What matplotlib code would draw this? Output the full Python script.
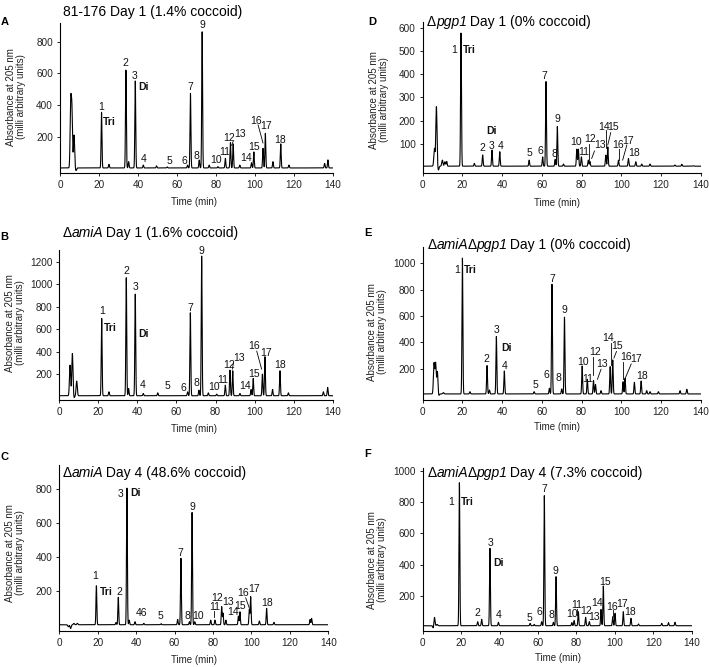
import numpy as np
import matplotlib
matplotlib.use("Agg")
import matplotlib.pyplot as plt

plt.rcParams['font.family'] = ['Liberation Sans', 'DejaVu Sans']

# ---------------- data (retention time in min, absorbance in mAU) ----------------
time_ticks = [0, 20, 40, 60, 80, 100, 120, 140]

# Panel A: 81-176 Day 1
a_title = [("81-176 Day 1 (1.4% coccoid)", "normal")]
a_peak_t = [5.5, 6.1, 7.2, 8.2, 21.3, 25.1, 33.8, 35.2, 38.6, 42.7, 49.5, 55, 65.4, 66.9, 71.4, 72.9,
            76.5, 81, 84.8, 87.4, 88.8, 92.2, 98.2, 99.4, 104.1, 105.3, 109.2, 113.2, 117.4, 135.7, 137.4]
a_peak_h = [406, 358, 210, -15, 354, 25, 621, 42, 552, 20, 15, 8, 20, 474, 52, 863,
            20, 10, 63, 162, 154, 20, 35, 103, 126, 221, 42, 154, 20, 30, 53]
a_yticks = [200, 400, 600, 800]
a_lab = ["1", "Tri", "2", "3", "Di", "4", "5", "6", "7", "8", "9", "10", "11", "12", "13", "14", "15", "16", "17", "18"]
a_lab_t = [21.3, 25.3, 33.6, 38.1, 42.7, 42.7, 56, 63.7, 66.6, 70, 72.9, 80.2, 84.5, 86.7, 92.2, 95.6, 99.4, 100.7, 105.5, 113]
a_lab_v = [389, 295, 663, 583, 516, 59, 46, 46, 516, 78, 905, 53, 105, 194, 215, 63, 133, 301, 267, 179]

# Panel B: ΔamiA Day 1
b_title = [("Δ", "normal"), ("amiA", "italic"), (" Day 1 (1.6% coccoid)", "normal")]
b_peak_t = [5.5, 6.7, 7.6, 8.9, 21.7, 25.4, 34.3, 35.5, 38.9, 43, 50.4, 65.7, 67.1, 71.5, 72.9, 76.3,
            80.6, 85, 87.4, 88.8, 92.5, 98.2, 99.3, 104, 105.3, 109.2, 113, 117.3, 135.2, 137.4]
b_peak_h = [280, 384, -10, 138, 696, 43, 1058, 72, 912, 28, 34, 43, 746, 58, 1250, 34,
            22, 102, 236, 230, 28, 64, 162, 200, 355, 64, 230, 34, 43, 82]
b_yticks = [200, 400, 600, 800, 1000, 1200]
b_lab = ["1", "Tri", "2", "3", "Di", "4", "5", "6", "7", "8", "9", "10", "11", "12", "13", "14", "15", "16", "17", "18"]
b_lab_t = [21.7, 25.9, 34.5, 38.9, 43, 42.7, 55.5, 63.5, 67.1, 70, 72.7, 79.4, 83.5, 86.9, 92.2, 95.1, 99.9, 99.9, 105.7, 113]
b_lab_v = [764, 615, 1117, 978, 553, 102, 96, 81, 793, 117, 1295, 87, 147, 280, 340, 96, 197, 449, 390, 280]

# Panel C: ΔamiA Day 4
c_title = [("Δ", "normal"), ("amiA", "italic"), (" Day 4 (48.6% coccoid)", "normal")]
c_peak_t = [4.7, 5.9, 7.6, 9.4, 19.3, 29.5, 30.7, 35.2, 36.4, 39.4, 44, 53, 61.6, 63.3, 67.7, 69.1,
            70.5, 78.8, 81, 84.5, 85.2, 86.7, 93.2, 94, 98.9, 99.6, 104.1, 107.9, 111.7, 130.5, 131.3]
c_peak_h = [-10, -20, 10, 10, 231, 15, 163, 804, 29, 20, 10, 8, 33, 392, 20, 661,
            20, 29, 29, 108, 70, 29, 53, 78, 92, 167, 24, 98, 16, 33, 39]
c_yticks = [200, 400, 600, 800]
c_lab = ["1", "Tri", "2", "3", "Di", "46", "5", "7", "8", "10", "9", "11", "12", "13", "14", "15", "16", "17", "18"]
c_lab_t = [18.6, 24.6, 31.1, 31.9, 39.9, 42.9, 52.9, 62.8, 66.8, 72, 69.4, 80.7, 81.9, 87.6, 90.2, 94, 95.4, 101.3, 108.3]
c_lab_v = [288, 196, 196, 771, 775, 69, 55, 425, 55, 55, 696, 108, 157, 137, 78, 112, 186, 210, 131]

# Panel D: Δpgp1 Day 1
d_title = [("Δ", "normal"), ("pgp1", "italic"), (" Day 1 (0% coccoid)", "normal")]
d_peak_t = [5.9, 6.9, 7.9, 9.9, 11.2, 12.1, 19.3, 26, 30.2, 34.9, 38.8, 53.6, 60.4, 62.1, 66.7, 67.8,
            70.9, 77.6, 78.4, 79.9, 83.4, 84.2, 92.2, 93.2, 98.6, 103.6, 107.3, 110.3, 114.5, 127, 130.5, 136.3]
d_peak_h = [81, 260, -12, 31, 24, 25, 576, 17, 53, 74, 67, 31, 45, 368, 34, 175,
            14, 78, 78, 45, 31, 25, 52, 88, 31, 38, 24, 14, 14, 10, 13, 7]
d_yticks = [100, 200, 300, 400, 500, 600]
d_lab = ["1", "Tri", "2", "3", "4", "Di", "5", "6", "7", "8", "9", "10", "11", "12", "13", "14", "15", "16", "17", "18"]
d_lab_t = [15.8, 23.5, 30.2, 34.9, 39.3, 34.8, 53.6, 59.1, 61.3, 66.2, 67.8, 77.2, 80.9, 84.3, 89.3, 91.5, 96, 98.6, 103.6, 106.4]
d_lab_v = [504, 504, 84, 93, 93, 157, 60, 71, 392, 56, 207, 110, 67, 120, 96, 174, 174, 96, 113, 60]

# Panel E: ΔamiAΔpgp1 Day 1
e_title = [("Δ", "normal"), ("amiA", "italic"), ("Δ", "normal"), ("pgp1", "italic"),
           (" Day 1 (0% coccoid)", "normal")]
e_peak_t = [5.7, 6.5, 7.4, 8.0, 10.4, 20, 23.8, 32.4, 33.6, 37.1, 41.1, 56.1, 63.8, 65.1, 70, 71.4,
            80.3, 82.9, 86, 87, 89.8, 94.4, 95.7, 100.9, 101.9, 106.6, 110, 112.8, 114.5, 118.7, 129.6, 133]
e_peak_h = [240, 240, 177, -10, 18, 1038, 25, 223, 38, 443, 182, 25, 51, 840, 46, 590,
            220, 119, 110, 80, 33, 215, 266, 101, 127, 96, 106, 33, 25, 25, 33, 43]
e_yticks = [200, 400, 600, 800, 1000]
e_lab = ["1", "Tri", "2", "3", "Di", "4", "5", "6", "7", "8", "9", "10", "11", "12", "13", "14", "15", "16", "17", "18"]
e_lab_t = [17.1, 23.8, 32.2, 37.3, 42.3, 41.5, 56.9, 62.1, 65.3, 68.3, 71.4, 80.6, 83.2, 86.8, 90.2, 93.5, 97.9, 102.4, 107.5, 110.6]
e_lab_v = [949, 949, 271, 494, 354, 223, 76, 152, 878, 127, 641, 253, 120, 329, 235, 430, 372, 286, 271, 147]

# Panel F: ΔamiAΔpgp1 Day 4
f_title = [("Δ", "normal"), ("amiA", "italic"), ("Δ", "normal"), ("pgp1", "italic"),
           (" Day 4 (7.3% coccoid)", "normal")]
f_peak_t = [5.6, 6.1, 7.5, 19.1, 28.6, 30.7, 35, 39.4, 55.9, 58, 61.9, 63.3, 68, 69.4, 77.6, 78.8,
            81, 84.8, 86.7, 92.8, 94, 98.9, 100.1, 104.4, 108.4, 112.3, 124.4, 127.9, 131.3]
f_peak_h = [-14, 65, 15, 925, 33, 48, 504, 29, 22, 15, 33, 842, 29, 322, 27, 40,
            97, 61, 33, 112, 262, 65, 87, 97, 55, 18, 22, 27, 29]
f_yticks = [200, 400, 600, 800, 1000]
f_lab = ["1", "Tri", "2", "3", "Di", "4", "5", "6", "7", "8", "9", "10", "11", "12", "13", "14", "15", "16", "17", "18"]
f_lab_t = [14.6, 23.2, 28.6, 35.2, 39.4, 39.4, 55.5, 60.7, 63.3, 66.8, 68.9, 77.6, 80.2, 85, 89.4, 90.9, 94.9, 98.4, 103.6, 108.1]
f_lab_v = [803, 803, 91, 536, 407, 76, 55, 93, 882, 76, 358, 80, 140, 104, 65, 151, 290, 129, 147, 97]

# ---------------- layout (pixels in a 709 x 667 canvas) ----------------
W, H = 709, 667
panels = [
    dict(letter="A", title=a_title, t=a_peak_t, h=a_peak_h, yt=a_yticks, lab=a_lab, lt=a_lab_t, lv=a_lab_v,
         box=(60, 23, 333, 173), ylim=(-30, 919), base=2, letter_xy=(5, 22), title_xy=(63, 12),
         ylab_xy=(16, 97), xlab_xy=(194, 202),
         leaders=[(101.6, 274, 104.1, 160), (88.8, 170, 88.0, 145)]),
    dict(letter="B", title=b_title, t=b_peak_t, h=b_peak_h, yt=b_yticks, lab=b_lab, lt=b_lab_t, lv=b_lab_v,
         box=(59.3, 250, 332.7, 400), ylim=(-30, 1305), base=8, letter_xy=(4.5, 237.5), title_xy=(63, 233),
         ylab_xy=(15.3, 323), xlab_xy=(194, 429),
         leaders=[(101.1, 405, 103.6, 245), (89.2, 300, 88.6, 245)]),
    dict(letter="C", title=c_title, t=c_peak_t, h=c_peak_h, yt=c_yticks, lab=c_lab, lt=c_lab_t, lv=c_lab_v,
         box=(59.3, 465, 328.3, 630.7), ylim=(-33, 940), base=2, letter_xy=(4.5, 457.5), title_xy=(63, 473),
         ylab_xy=(14.7, 553), xlab_xy=(194, 660),
         leaders=[(97.0, 160, 98.9, 100), (80.7, 85, 80.7, 45)]),
    dict(letter="D", title=d_title, t=d_peak_t, h=d_peak_h, yt=d_yticks, lab=d_lab, lt=d_lab_t, lv=d_lab_v,
         box=(422.7, 21.7, 700.7, 172.7), ylim=(-23, 625), base=5, letter_xy=(372.5, 21.7), title_xy=(427, 21.7),
         ylab_xy=(379.5, 100), xlab_xy=(557, 203),
         leaders=[(83.8, 100, 83.8, 33), (86.5, 70, 85.1, 38), (92.2, 160, 92.2, 81),
                  (94.7, 149, 93.2, 96), (98.9, 77, 98.9, 31), (102.8, 96, 100.7, 31)]),
    dict(letter="E", title=e_title, t=e_peak_t, h=e_peak_h, yt=e_yticks, lab=e_lab, lt=e_lab_t, lv=e_lab_v,
         box=(422.7, 246.7, 700.7, 400), ylim=(-38, 1125), base=8, letter_xy=(367.5, 233), title_xy=(428, 245),
         ylab_xy=(376.7, 331.7), xlab_xy=(557, 427),
         leaders=[(86, 291, 86, 150), (89.8, 195, 88, 119), (94.7, 397, 94.7, 230),
                  (97.6, 330, 96.3, 280), (100.7, 250, 100.7, 120), (105, 235, 102, 127)]),
    dict(letter="F", title=f_title, t=f_peak_t, h=f_peak_h, yt=f_yticks, lab=f_lab, lt=f_lab_t, lv=f_lab_v,
         box=(422.7, 468.3, 691.7, 630.7), ylim=(-25, 1018), base=7, letter_xy=(367.5, 454), title_xy=(428, 473),
         ylab_xy=(376.7, 560), xlab_xy=(558, 658),
         leaders=[(80.5, 112, 80.5, 75), (98.9, 105, 98.9, 70)]),
]

fig = plt.figure(figsize=(W / 100, H / 100), dpi=100)
renderer = fig.canvas.get_renderer()

def fx(x):
    return x / W

def fy(y):
    return 1 - y / H

def rich_text(x, y, segments, size):
    cur = x
    for s, style in segments:
        t = fig.text(fx(cur), fy(y), s, ha="left", va="center", fontsize=size, fontstyle=style)
        cur += t.get_window_extent(renderer=renderer).width
        if style == "italic":
            cur -= 1.5

grid = np.linspace(0, 140, 14001)

for p in panels:
    x0, y0, x1, y1 = p["box"]
    ax = fig.add_axes([fx(x0), fy(y1), fx(x1) - fx(x0), fy(y0) - fy(y1)])
    tr = np.full_like(grid, float(p["base"]))
    for t, hgt in zip(p["t"], p["h"]):
        sig = 0.3 if t < 12 else 0.22
        tr += (hgt - p["base"]) * np.exp(-0.5 * ((grid - t) / sig) ** 2)
    ax.plot(grid, tr, color="black", lw=0.8)
    ax.set_xlim(0, 140)
    ax.set_ylim(*p["ylim"])
    ax.set_xticks(time_ticks)
    ax.set_yticks(p["yt"])
    for s in ("top", "right"):
        ax.spines[s].set_visible(False)
    for s in ("left", "bottom"):
        ax.spines[s].set_linewidth(0.8)
    ax.tick_params(axis="both", labelsize=7.2, length=2.5, width=0.7, pad=2.5, colors="#222222")
    ax.patch.set_alpha(0)
    for txt, lt, lv in zip(p["lab"], p["lt"], p["lv"]):
        bold = txt in ("Tri", "Di")
        ax.text(lt, lv, txt, ha="center", va="center", fontsize=7.5,
                fontweight="bold" if bold else "normal", color="#111111")
    for (xa, ya, xb, yb) in p["leaders"]:
        ax.plot([xa, xb], [ya, yb], color="black", lw=0.6)
    fig.text(fx(p["letter_xy"][0]), fy(p["letter_xy"][1]), p["letter"], ha="center", va="center",
             fontsize=8, fontweight="bold")
    rich_text(p["title_xy"][0], p["title_xy"][1], p["title"], 10)
    fig.text(fx(p["ylab_xy"][0]), fy(p["ylab_xy"][1]), "Absorbance at 205 nm\n(milli arbitrary units)",
             ha="center", va="center", rotation=90, fontsize=7, multialignment="center", linespacing=1.0,
             color="#222222")
    fig.text(fx(p["xlab_xy"][0]), fy(p["xlab_xy"][1]), "Time (min)", ha="center", va="center", fontsize=7,
             color="#222222")

fig.savefig("out.png", dpi=100)
